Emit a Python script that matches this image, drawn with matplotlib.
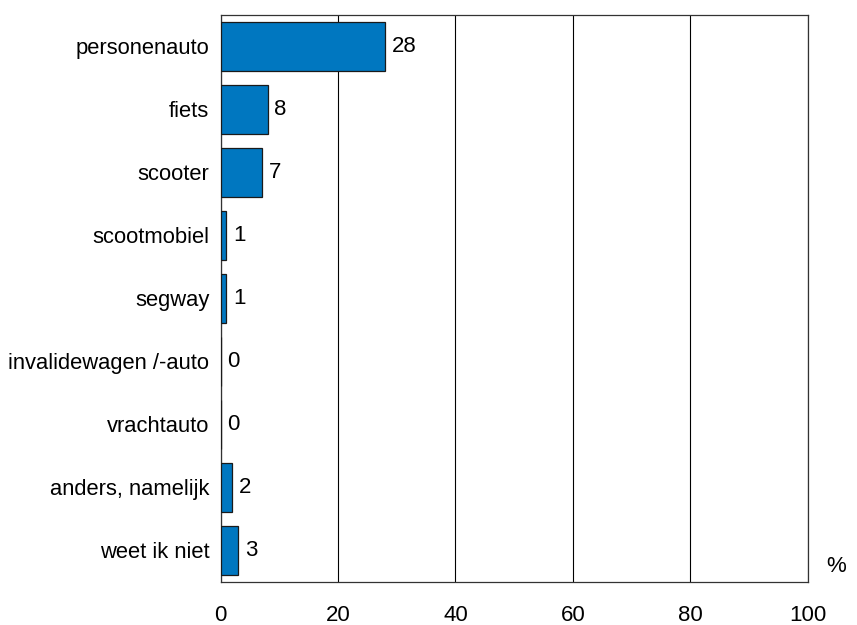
import matplotlib.pyplot as plt

plt.rcParams["font.family"] = ["Liberation Sans", "DejaVu Sans"]

categories = [
    "personenauto",
    "fiets",
    "scooter",
    "scootmobiel",
    "segway",
    "invalidewagen /-auto",
    "vrachtauto",
    "anders, namelijk",
    "weet ik niet",
]
values = [28, 8, 7, 1, 1, 0, 0, 2, 3]
xticks = [0, 20, 40, 60, 80, 100]

fig = plt.figure(figsize=(8.57, 6.25), dpi=100)
ax = fig.add_axes([0.2573, 0.0688, 0.6855, 0.9077])

pos = list(range(len(categories)))
bars = ax.barh(pos, values, height=0.78, color="#0077c0",
               edgecolor="#1a1a1a", linewidth=0.9, zorder=3)

for p, v in zip(pos, values):
    ax.annotate(str(v), xy=(v, p), xytext=(5, 0), textcoords="offset points",
                ha="left", va="center", fontsize=16, color="black")

ax.set_xlim(0, 100)
ax.set_ylim(len(categories) - 0.5, -0.5)
ax.set_xticks(xticks)
ax.set_xticklabels([str(t) for t in xticks], fontsize=16)
ax.set_yticks(pos)
ax.set_yticklabels(categories, fontsize=15.8)
ax.tick_params(axis="both", length=0)
ax.tick_params(axis="x", pad=16.5)
ax.tick_params(axis="y", pad=8)

ax.grid(axis="x", color="black", linewidth=0.8, zorder=0)
for s in ax.spines.values():
    s.set_linewidth(0.9)
    s.set_color("#333333")

fig.text(0.987, 0.0928, "%", ha="right", va="center", fontsize=16)

fig.savefig("out.png", dpi=100)
